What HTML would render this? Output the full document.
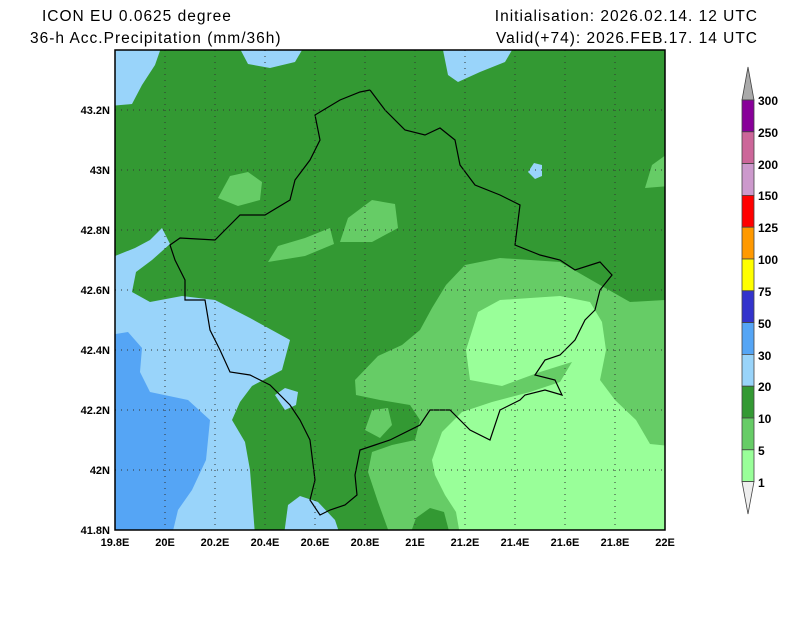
<!DOCTYPE html>
<html><head><meta charset="utf-8"><style>
html,body{margin:0;padding:0;background:#fff;width:800px;height:618px;overflow:hidden}
svg{display:block}
text{font-family:"Liberation Sans",sans-serif}
</style></head><body>
<svg width="800" height="618" viewBox="0 0 800 618">
<rect width="800" height="618" fill="#fff"/>
<text x="42" y="21" font-size="15.5" letter-spacing="1">ICON EU 0.0625 degree</text>
<text x="30" y="43" font-size="15.5" letter-spacing="1">36-h Acc.Precipitation (mm/36h)</text>
<text x="758" y="21" font-size="15.5" letter-spacing="1" text-anchor="end">Initialisation: 2026.02.14. 12 UTC</text>
<text x="758" y="43" font-size="15.5" letter-spacing="1" text-anchor="end">Valid(+74): 2026.FEB.17. 14 UTC</text>
<defs><clipPath id="c"><rect x="115" y="50" width="550" height="480"/></clipPath></defs>
<g clip-path="url(#c)">
<rect x="115" y="50" width="550" height="480" fill="#339933"/>
<g fill="#99d4fa">
<polygon points="110,45 162,45 155,65 142,85 132,104 110,106"/>
<polygon points="238,45 305,45 295,62 270,68 248,64"/>
<polygon points="442,45 515,45 505,62 480,72 458,82 448,75"/>
<polygon points="110,258 135,248 150,240 162,228 170,244 152,260 136,272 132,292 150,302 182,296 215,300 250,318 290,340 282,370 252,386 240,402 232,420 245,442 250,470 255,535 110,535"/>
<polygon points="284,535 288,505 300,496 318,502 335,520 340,535"/>
<polygon points="528,172 534,163 542,165 542,176 535,179"/>
<polygon points="275,395 285,388 298,392 296,405 285,410"/>
</g>
<polygon fill="#55a5f5" points="110,335 128,332 142,348 140,372 150,392 188,400 210,420 206,460 192,490 178,510 172,535 110,535"/>
<g fill="#66cc66">
<polygon points="355,380 378,356 402,345 420,330 432,308 446,285 465,265 500,258 560,262 600,285 630,302 665,300 670,535 390,535 378,502 368,472 372,452 392,445 415,440 420,420 410,405 380,400 356,395"/>
<polygon points="218,198 230,176 248,172 262,182 260,200 238,206"/>
<polygon points="268,262 278,246 305,238 330,228 334,244 305,256"/>
<polygon points="340,242 348,218 372,200 395,204 398,228 372,242"/>
<polygon points="645,188 652,165 670,152 670,186"/>
<polygon points="365,430 372,410 388,408 392,425 380,438"/>
</g>
<polygon fill="#99ff99" points="478,312 500,300 560,296 590,302 602,322 606,350 600,380 615,400 636,420 650,444 670,446 670,535 460,535 456,512 445,495 435,475 432,460 442,432 462,412 492,402 530,392 560,382 572,362 540,372 502,386 470,380 466,350"/>
<polygon fill="#339933" points="410,535 416,518 430,508 444,512 450,535"/>
<polyline fill="none" stroke="#000" stroke-width="1.2" points="370,90 385,110 405,130 425,135 440,128 455,140 460,165 475,185 500,195 520,205 515,245 540,255 560,260 575,270 600,262 612,275 600,290 595,310 585,320 575,340 560,355 545,360 535,375 555,380 562,395 545,390 525,395 520,400 500,410 490,440 470,430 450,410 430,410 420,425 390,440 375,445 360,450 355,475 357,495 345,505 330,510 320,515 310,500 315,480 310,440 300,420 290,405 270,385 250,375 230,372 220,350 210,330 205,300 185,300 185,280 175,260 170,245 180,238 215,240 230,225 240,215 265,215 290,200 295,180 310,160 320,140 315,115 340,100 360,92 370,90"/>
<g stroke="#333" stroke-width="1" stroke-dasharray="1,5">
<line x1="165" y1="50" x2="165" y2="530"/><line x1="215" y1="50" x2="215" y2="530"/><line x1="265" y1="50" x2="265" y2="530"/><line x1="315" y1="50" x2="315" y2="530"/><line x1="365" y1="50" x2="365" y2="530"/><line x1="415" y1="50" x2="415" y2="530"/><line x1="465" y1="50" x2="465" y2="530"/><line x1="515" y1="50" x2="515" y2="530"/><line x1="565" y1="50" x2="565" y2="530"/><line x1="615" y1="50" x2="615" y2="530"/>
<line x1="115" y1="110" x2="665" y2="110"/><line x1="115" y1="170" x2="665" y2="170"/><line x1="115" y1="230" x2="665" y2="230"/><line x1="115" y1="290" x2="665" y2="290"/><line x1="115" y1="350" x2="665" y2="350"/><line x1="115" y1="410" x2="665" y2="410"/><line x1="115" y1="470" x2="665" y2="470"/>
</g>
</g>
<rect x="115" y="50" width="550" height="480" fill="none" stroke="#000" stroke-width="1.5"/>
<g font-size="11" font-weight="bold" text-anchor="end">
<text x="110" y="114">43.2N</text><text x="110" y="174">43N</text><text x="110" y="234">42.8N</text><text x="110" y="294">42.6N</text><text x="110" y="354">42.4N</text><text x="110" y="414">42.2N</text><text x="110" y="474">42N</text><text x="110" y="534">41.8N</text>
</g>
<g font-size="11" font-weight="bold" text-anchor="middle">
<text x="115" y="546">19.8E</text><text x="165" y="546">20E</text><text x="215" y="546">20.2E</text><text x="265" y="546">20.4E</text><text x="315" y="546">20.6E</text><text x="365" y="546">20.8E</text><text x="415" y="546">21E</text><text x="465" y="546">21.2E</text><text x="515" y="546">21.4E</text><text x="565" y="546">21.6E</text><text x="615" y="546">21.8E</text><text x="665" y="546">22E</text>
</g>
<g stroke="#444" stroke-width="0.8">
<polygon points="742,100 754,100 748,67" fill="#aaaaaa"/>
<rect x="742" y="100" width="12" height="31.8" fill="#880099"/>
<rect x="742" y="131.8" width="12" height="31.8" fill="#cc6699"/>
<rect x="742" y="163.6" width="12" height="31.8" fill="#cc99cc"/>
<rect x="742" y="195.4" width="12" height="31.8" fill="#ff0000"/>
<rect x="742" y="227.2" width="12" height="31.8" fill="#ff9900"/>
<rect x="742" y="259" width="12" height="31.8" fill="#ffff00"/>
<rect x="742" y="290.8" width="12" height="31.8" fill="#3333cc"/>
<rect x="742" y="322.6" width="12" height="31.8" fill="#55a5f5"/>
<rect x="742" y="354.4" width="12" height="31.8" fill="#99d4fa"/>
<rect x="742" y="386.2" width="12" height="31.8" fill="#339933"/>
<rect x="742" y="418" width="12" height="31.8" fill="#66cc66"/>
<rect x="742" y="449.8" width="12" height="31.8" fill="#99ff99"/>
<polygon points="742,481.6 754,481.6 748,514" fill="#eeeeee"/>
</g>
<g font-size="12" font-weight="bold">
<text x="758" y="105">300</text><text x="758" y="137">250</text><text x="758" y="169">200</text><text x="758" y="200">150</text><text x="758" y="232">125</text><text x="758" y="264">100</text><text x="758" y="296">75</text><text x="758" y="328">50</text><text x="758" y="360">30</text><text x="758" y="391">20</text><text x="758" y="423">10</text><text x="758" y="455">5</text><text x="758" y="487">1</text>
</g>
</svg>
</body></html>
